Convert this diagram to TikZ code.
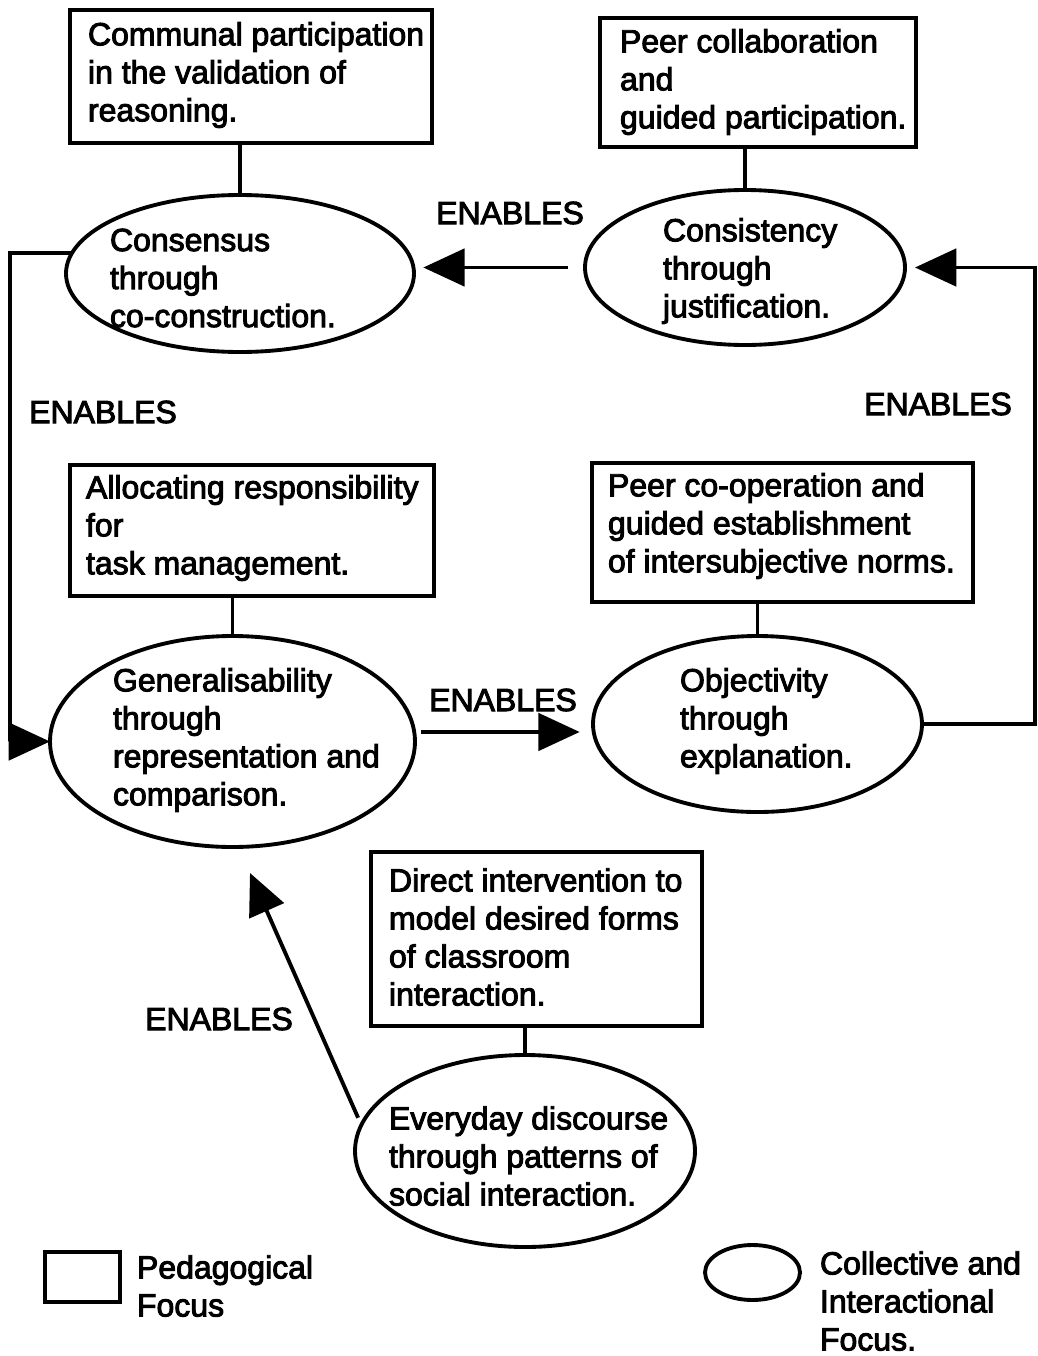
\documentclass[tikz,border=0pt]{standalone}
\usepackage{fontspec}
\setmainfont{Liberation Sans}[FakeBold=3]
\usetikzlibrary{shapes.geometric,arrows.meta}
\begin{document}
\begin{tikzpicture}[x=0.75pt,y=-0.75pt,
  every node/.style={inner sep=0pt, outer sep=0pt},
  lw/.style={line width=2.9pt},
  pbox/.style={draw, line width=2.6pt, rectangle},
  cell/.style={draw, lw, ellipse},
  txt/.style={anchor=west, align=left, font=\fontsize{24}{28.5}\selectfont},
  lbl/.style={anchor=center, font=\fontsize{24}{28.5}\selectfont},
  conn/.style={line width=2.6pt},
  arr/.style={lw, -{Triangle[length=31pt,width=28pt]}}
]
\useasboundingbox (0,0) rectangle (1038,1356);

% boxes
\node[pbox, minimum width=271.5pt, minimum height=99.75pt] (b1) at (251,76.5) {};
\node[pbox, minimum width=237pt, minimum height=96.75pt] (b2) at (758,82.5) {};
\node[pbox, minimum width=273pt, minimum height=98.25pt] (b3) at (252,530.5) {};
\node[pbox, minimum width=285.75pt, minimum height=104.25pt] (b4) at (782.5,532.5) {};
\node[pbox, minimum width=248.25pt, minimum height=130.5pt] (b5) at (536.5,939) {};

% ellipses
\node[cell, minimum width=261pt, minimum height=117.75pt] (e1) at (240,273.5) {};
\node[cell, minimum width=240pt, minimum height=116.25pt] (e2) at (745,267.5) {};
\node[cell, minimum width=273.75pt, minimum height=158.25pt] (e3) at (232.5,741.5) {};
\node[cell, minimum width=246.75pt, minimum height=132pt] (e4) at (757.5,724) {};
\node[cell, minimum width=255pt, minimum height=144pt] (e5) at (525,1151) {};

% texts
\node[txt] (t1) at (88,75) {Communal participation\\in the validation of\\reasoning.};
\node[txt] (t2) at (620,82) {Peer collaboration\\and\\guided participation.};
\node[txt] (t3) at (86,528) {Allocating responsibility\\for\\task management.};
\node[txt] (t4) at (608,526) {Peer co-operation and\\guided establishment\\of intersubjective norms.};
\node[txt] (t5) at (389,937) {Direct intervention to\\model desired forms\\of classroom\\interaction.};
\node[txt] (u1) at (110,278) {Consensus\\through\\co-construction.};
\node[txt] (u2) at (663,271) {Consistency\\through\\justification.};
\node[txt] (u3) at (113,740) {Generalisability\\through\\representation and\\comparison.};
\node[txt] (u4) at (680,721) {Objectivity\\through\\explanation.};
\node[txt] (u5) at (389,1156) {Everyday discourse\\through patterns of\\social interaction.};

% box-ellipse links
\draw[conn] (b1.south -| e1.north) -- (e1.north);
\draw[conn] (b2.south -| e2.north) -- (e2.north);
\draw[conn] (b3.south -| e3.north) -- (e3.north);
\draw[conn] (b4.south -| e4.north) -- (e4.north);
\draw[conn] (b5.south -| e5.north) -- (e5.north);

% ENABLES labels
\node[lbl] (l1) at (510,213) {ENABLES};
\node[lbl] (l2) at (103,412) {ENABLES};
\node[lbl] (l3) at (938,404) {ENABLES};
\node[lbl] (l4) at (503,700) {ENABLES};
\node[lbl] (l5) at (219,1019) {ENABLES};

% helper coordinates
\coordinate (lc) at (10,0);
\coordinate (rc) at (1035,0);
\coordinate (tip5) at (250,873);

% arrows
\draw[arr, shorten <=13pt, shorten >=7pt] (e2.west) -- (e2.west -| e1.east);
\draw[arr] (e1.173) -- (e1.173 -| lc) -- (lc |- e3.west) -- (e3.west);
\draw[arr, shorten >=7.5pt] (e4.east) -- (e4.east -| rc) -- (rc |- e2.east) -- (e2.east);
\draw[arr, shorten <=5pt, shorten >=10pt] (e3.3) -- (e3.3 -| e4.west);
\draw[arr, shorten <=6pt] (e5.171) -- (tip5);

% legend
\node[pbox, minimum width=56.25pt, minimum height=37.5pt] (lg1) at (82.5,1277) {};
\node[txt] (lt1) at (137,1286) {Pedagogical\\Focus};
\node[cell, minimum width=71.25pt, minimum height=41.25pt] (lg2) at (752.5,1272.5) {};
\node[txt] (lt2) at (820,1301) {Collective and\\Interactional\\Focus.};
\end{tikzpicture}
\end{document}
